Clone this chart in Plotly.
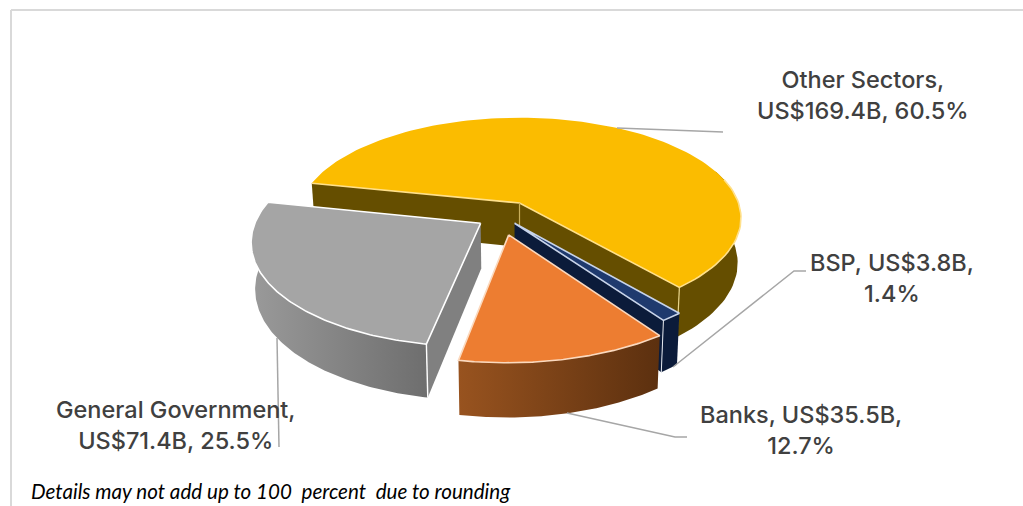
import numpy as np
import plotly.graph_objects as go

# Sector names, amounts in US$ billions and published shares
sectors = ["Other Sectors", "BSP", "Banks", "General Government"]
amounts = [169.4, 3.8, 35.5, 71.4]
shares = [60.5, 1.4, 12.7, 25.5]

# Projection of the tilted disc onto the page
CX, CY = 519.5, 203.0
RX, RY = 219.0, 98.0
PERSPECTIVE = 0.15
THICKNESS = 44.0
BOTTOM_SCALE = 0.985
START_ANGLE = 282.0

# Per-slice styling and how far each slice is pulled out of the disc
explode = [(0.0, 0.0), (-0.022, 0.2), (-0.047, 0.31), (-0.172, 0.2)]
top_colors = ["#FBBC00", "#1F3A6E", "#ED7D31", "#A5A5A5"]
edge_colors = ["#FFE08A", "#C8D4EA", "#FBD9BE", "#FFFFFF"]
rim_gradients = [None, None, ("#98531F", "#5C300F"), ("#9A9A9A", "#6E6E6E")]
wall_colors = ["#654E00", "#0B1B3A", "#5C300F", "#808080"]
# Last angle of the outer wall that is still drawn, per slice
rim_limits = [275, 275, 275, 295]
# Which radial walls face the viewer: (start of the arc, end of the arc)
visible_walls = [(True, True), (False, True), (False, False), (True, False)]


def project(theta_deg, radius, du, dv):
    t = np.radians(theta_deg)
    u = radius * np.sin(t) + du
    v = -radius * np.cos(t) + dv
    w = 1.0 / (1.0 - PERSPECTIVE * v)
    return CX + RX * u * w, CY + RY * v * w, THICKNESS * w


def lower(x):
    return CX + (x - CX) * BOTTOM_SCALE


fig = go.Figure()


def polygon(xs, ys, color=None, gradient=None):
    kw = dict(x=list(xs) + [xs[0]], y=list(ys) + [ys[0]], mode="lines", fill="toself",
              line=dict(width=0), hoverinfo="skip", showlegend=False)
    if gradient:
        kw["fillgradient"] = dict(type="horizontal",
                                  colorscale=[[0, gradient[0]], [1, gradient[1]]])
    else:
        kw["fillcolor"] = color
    fig.add_trace(go.Scatter(**kw))


def edge(xs, ys, color, width=1.6):
    fig.add_trace(go.Scatter(x=list(xs), y=list(ys), mode="lines",
                             line=dict(color=color, width=width),
                             hoverinfo="skip", showlegend=False))


def draw_slice(i, a0, a1):
    du, dv = explode[i]
    arc = np.linspace(a0, a1, 120)
    ax, ay, ad = project(arc, 1.0, du, dv)
    ox, oy, od = project(0.0, 0.0, du, dv)

    # outer wall: only the part of the arc facing the viewer
    t = np.mod(arc, 360.0)
    facing = (t > 70) & (t < rim_limits[i])
    rx, ry, rd = ax[facing], ay[facing], ad[facing]
    polygon(np.r_[rx, lower(rx)[::-1]], np.r_[ry, (ry + rd)[::-1]],
            gradient=rim_gradients[i], color=wall_colors[i])

    # radial cut walls
    for j, shown in zip((0, -1), visible_walls[i]):
        if shown:
            polygon([ox, ax[j], lower(ax[j]), lower(ox)],
                    [oy, ay[j], ay[j] + ad[j], oy + od], color=wall_colors[i])

    # top face; its bright outline stops where the far rim meets the page
    polygon(np.r_[ox, ax], np.r_[oy, ay], color=top_colors[i])
    if i == 0:
        near = (t > 75) & (t < 200)
        edge(np.r_[ax[0], ox, ax[-1], ax[near][::-1]],
             np.r_[ay[0], oy, ay[-1], ay[near][::-1]], edge_colors[i])
    else:
        edge(np.r_[ox, ax, ox], np.r_[oy, ay, oy], edge_colors[i])
    return ax, ay, ad, ox, oy, od


def corner(x, y, d, color, width):
    edge([x, lower(x)], [y, y + d], color, width)


fractions = np.array(amounts) / np.sum(amounts)
angles = START_ANGLE + np.r_[0.0, np.cumsum(fractions)] * 360.0
spans = list(zip(angles[:-1], angles[1:]))

# Back to front: the large slice first, the pulled-out slices over it
ax, ay, ad, ox, oy, od = draw_slice(0, *spans[0])
corner(ox, oy, od, "#C8AE5A", 1.2)
corner(ax[-1], ay[-1], ad[-1], "#E8D48A", 1.2)

ax, ay, ad, ox, oy, od = draw_slice(1, *spans[1])
corner(ax[-1], ay[-1], ad[-1], "#E4E8F0", 1.0)
draw_slice(2, *spans[2])
ax, ay, ad, ox, oy, od = draw_slice(3, *spans[3])
corner(ax[0], ay[0], ad[0], "#FFFFFF", 1.4)

# Leader lines from each slice to its label
leaders = [
    ([617, 723], [128, 132]),
    ([673, 794, 806], [367, 271, 271]),
    ([567, 675, 687], [413, 437, 437]),
    ([277, 279], [338, 447]),
]
for lx, ly in leaders:
    edge(lx, ly, "#A6A6A6", 1.5)

# Slice labels
label_text = [
    f"{sectors[0]},<br>US${amounts[0]}B, {shares[0]}%",
    f"{sectors[1]}, US${amounts[1]}B,<br>{shares[1]}%",
    f"{sectors[2]}, US${amounts[2]}B,<br>{shares[2]}%",
    f"{sectors[3]},<br>US${amounts[3]}B, {shares[3]}%",
]
label_pos = [(863, 95), (892, 278), (801, 430), (175, 425)]
for text, (lx, ly) in zip(label_text, label_pos):
    fig.add_annotation(x=lx, y=ly, text=text, showarrow=False, align="center",
                       font=dict(family="Inter", size=23.5, weight=500, color="#404040"))

fig.add_annotation(x=29, y=491, xanchor="left", showarrow=False,
                   text="<i>Details may not add up to 100\u00a0 percent\u00a0 due to rounding</i>",
                   font=dict(family="Lato", size=20.6, color="#000000"))

# Panel frame
frame = dict(type="line", line=dict(color="#D9D9D9", width=2), layer="below")
fig.add_shape(x0=11, x1=1023, y0=10, y1=10, **frame)
fig.add_shape(x0=11, x1=11, y0=10, y1=506, **frame)

fig.update_xaxes(range=[0, 1023], visible=False, fixedrange=True)
fig.update_yaxes(range=[506, 0], visible=False, fixedrange=True)
fig.update_layout(width=1023, height=506, margin=dict(l=0, r=0, t=0, b=0),
                  paper_bgcolor="white", plot_bgcolor="white", showlegend=False)
fig.write_html("out.html")
